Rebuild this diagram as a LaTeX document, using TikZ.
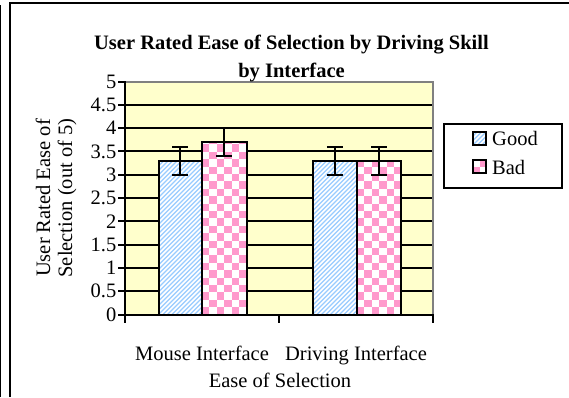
\documentclass[tikz,border=0pt]{standalone}
\usepackage{fontspec}
\setmainfont{Liberation Serif}
\definecolor{plotbg}{HTML}{FFFFCC}
\definecolor{stripeblue}{HTML}{99CCFF}
\definecolor{checkpink}{HTML}{FF99CC}
\definecolor{bordergray}{HTML}{808080}
\tikzset{
  txt/.style={font=\fontsize{20.5}{24}\selectfont, inner sep=0pt},
  ttl/.style={font=\fontsize{20.5}{24}\selectfont\bfseries, inner sep=0pt},
  gridline/.style={line width=2pt, black},
  axisline/.style={line width=2pt, black, line cap=rect},
  barframe/.style={line width=2pt, black},
  errline/.style={line width=2pt, black},
  frameline/.style={line width=2pt, black},
}
\newcommand\stripefill[4]{% x0 y0 x1 y1 (y0 bottom)
  \begin{scope}
    \clip (#1,#2) rectangle (#3,#4);
    \fill[white] (#1,#2) rectangle (#3,#4);
    \foreach \k in {-70,...,20}
      \draw[stripeblue, line width=1.2pt] ({#1+\k*4.5},#2) -- ++(260,-260);
  \end{scope}}
\newcommand\checkfill[5]{% x0 y0 x1 y1 cell
  \begin{scope}
    \clip (#1,#2) rectangle (#3,#4);
    \fill[white] (#1,#2) rectangle (#3,#4);
    \foreach \i in {0,...,7}{
      \foreach \j in {0,...,34}{
        \pgfmathtruncatemacro\cpar{mod(\i+\j,2)}
        \ifnum\cpar=0
          \fill[checkpink] ({#1+\i*#5},{#2-\j*#5}) rectangle ++(#5,-#5);
        \fi
      }}
  \end{scope}}
\begin{document}
\begin{tikzpicture}[x=1pt,y=-1pt]
\useasboundingbox (0,0) rectangle (569,397);
% outer frame
\draw[frameline] (10,397) -- (10,3) -- (569,3);
\draw[black, line width=1pt] (0.5,5) -- (0.5,397);
% plot area
\fill[plotbg] (125,81.5) rectangle (433,314.5);
\foreach \v in {0.5,1,...,4.5}
  \draw[gridline] (125,{314.5-46.6*\v}) -- (433,{314.5-46.6*\v});
\draw[line width=2pt, bordergray] (125,81.5) -- (433,81.5) -- (433,314.5);
% bars
\stripefill{158.5}{314.5}{202}{{314.5-46.6*3.3}}
\draw[barframe] (158.5,314.5) rectangle (202,{314.5-46.6*3.3});
\checkfill{202}{314.5}{246.5}{{314.5-46.6*3.7}}{7.4}
\draw[barframe] (202,314.5) rectangle (246.5,{314.5-46.6*3.7});
\stripefill{312.5}{314.5}{357}{{314.5-46.6*3.3}}
\draw[barframe] (312.5,314.5) rectangle (357,{314.5-46.6*3.3});
\checkfill{357}{314.5}{401}{{314.5-46.6*3.3}}{7.4}
\draw[barframe] (357,314.5) rectangle (401,{314.5-46.6*3.3});
% error bars
\foreach \xc/\lo/\hi in {180.25/3.0/3.6, 224.25/3.4/4.0, 334.75/3.0/3.6, 379/3.0/3.6}{
  \draw[errline] (\xc,{314.5-46.6*\lo}) -- (\xc,{314.5-46.6*\hi});
  \draw[errline] ({\xc-8},{314.5-46.6*\lo}) -- ({\xc+8},{314.5-46.6*\lo});
  \draw[errline] ({\xc-8},{314.5-46.6*\hi}) -- ({\xc+8},{314.5-46.6*\hi});
}
% axes
\draw[axisline] (125,81.5) -- (125,314.5) -- (433,314.5);
\foreach \v/\lab in {0/0,0.5/0.5,1/1,1.5/1.5,2/2,2.5/2.5,3/3,3.5/3.5,4/4,4.5/4.5,5/5}{
  \draw[axisline] (119,{314.5-46.6*\v}) -- (125,{314.5-46.6*\v});
  \node[txt, anchor=east] (t\lab) at (116.5,{314.5-46.6*\v}) {\lab};
}
\foreach \x in {125,279,433}
  \draw[axisline] (\x,314.5) -- (\x,321.5);
% titles
\node[ttl, anchor=base] (title1) at (291.5,49.7) {User Rated Ease of Selection by Driving Skill};
\node[ttl, anchor=base] (title2) at (291.5,77.5) {by Interface};
\node[txt, anchor=base, rotate=90] (ylab1) at (50,198) {User Rated Ease of};
\node[txt, anchor=base, rotate=90] (ylab2) at (72,198) {Selection (out of 5)};
\node[txt, anchor=base] (cat1) at (202,360) {Mouse Interface};
\node[txt, anchor=base] (cat2) at (356,360) {Driving Interface};
\node[txt, anchor=base] (xlab) at (280,387) {Ease of Selection};
% legend
\draw[line width=2pt, black] (444,123.5) rectangle (561.5,187.5);
\stripefill{473}{145}{486}{132}
\draw[line width=1.6pt] (473,145) rectangle (486,132);
\checkfill{473}{173}{486}{160}{6.5}
\draw[line width=1.6pt] (473,173) rectangle (486,160);
\node[txt, anchor=base west] (lgood) at (492,145) {Good};
\node[txt, anchor=base west] (lbad) at (492,174) {Bad};
\end{tikzpicture}
\end{document}
